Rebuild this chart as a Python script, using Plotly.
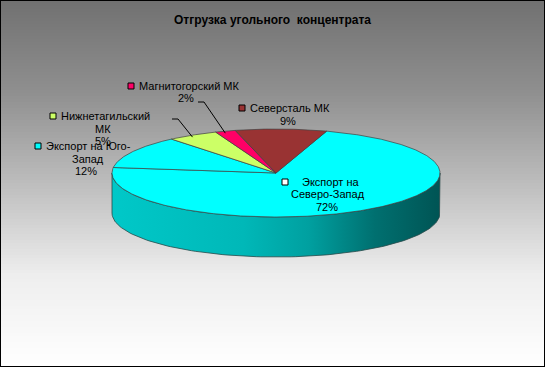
import numpy as np
import plotly.graph_objects as go

# ---------------- data ----------------
categories = ["Экспорт на Северо-Запад", "Экспорт на Юго-Запад",
              "Нижнетагильский МК", "Магнитогорский МК", "Северсталь МК"]
values = [72, 12, 5, 2, 9]
percent_labels = ["72%", "12%", "5%", "2%", "9%"]
slice_colors = ["#00FFFF", "#00FFFF", "#CCFF66", "#FF0066", "#993333"]
key_colors = ["#FFFFFF", "#00FFFF", "#CCFF66", "#FF0066", "#993333"]
title_text = "Отгрузка угольного  концентрата"

# ---------------- layout geometry (pixels) ----------------
W, H = 545, 367
CX, CY, RX, RY, DEPTH = 276, 173, 164, 44, 40
START_ANGLE = 72.0  # degrees, slices run clockwise
FONT = "Liberation Sans, Arial, sans-serif"

fig = go.Figure()

shapes = []
# background gradient (horizontal bands)
bg_stops = [(0.0, (112, 112, 112)), (0.25, (143, 143, 143)), (0.5, (189, 189, 189)),
            (0.75, (238, 238, 238)), (1.0, (255, 255, 255))]


def bg_color(f):
    for (f0, c0), (f1, c1) in zip(bg_stops[:-1], bg_stops[1:]):
        if f <= f1:
            u = (f - f0) / (f1 - f0)
            c = [round(a + (b - a) * u) for a, b in zip(c0, c1)]
            return "rgb(%d,%d,%d)" % tuple(c)
    return "rgb(255,255,255)"


band = 3
for y0 in range(0, H, band):
    shapes.append(dict(type="rect", xref="x", yref="y", x0=0, x1=W, y0=y0, y1=min(H, y0 + band + 0.5),
                       fillcolor=bg_color((y0 + band / 2) / H), line=dict(width=0), layer="below"))

total = float(sum(values))
bounds = []
a = START_ANGLE
for v in values:
    b = a - 360.0 * v / total
    bounds.append((b, a))
    a = b


def ell(t_deg, dy=0.0):
    t = np.radians(t_deg)
    return CX + RX * np.cos(t), CY - RY * np.sin(t) + dy


# side walls (front half only)
for (lo, hi), col in zip(bounds, slice_colors):
    for k in (-1, 0, 1):
        s0, s1 = max(lo, 180 + 360 * k), min(hi, 360 + 360 * k)
        if s1 - s0 <= 0:
            continue
        ts = np.linspace(s0, s1, 120)
        xt, yt = ell(ts)
        xb, yb = ell(ts[::-1], DEPTH)
        xs = np.concatenate([xt, xb, xt[:1]])
        ys = np.concatenate([yt, yb, yt[:1]])
        fig.add_trace(go.Scatter(
            x=xs, y=ys, mode="lines", fill="toself",
            line=dict(color="#2a4a4a", width=0.8), hoverinfo="skip", showlegend=False,
            fillgradient=dict(type="horizontal", start=CX - RX, stop=CX + RX,
                              colorscale=[[0, "#00c8c8"], [0.4, "#00b8b8"], [0.6, "#00a0a0"],
                                          [0.8, "#007070"], [1, "#005454"]])))

# top faces
for (lo, hi), col in zip(bounds, slice_colors):
    ts = np.linspace(hi, lo, max(4, int((hi - lo) * 2)))
    xa, ya = ell(ts)
    xs = np.concatenate([[CX], xa, [CX]])
    ys = np.concatenate([[CY], ya, [CY]])
    fig.add_trace(go.Scatter(
        x=xs, y=ys, mode="lines", fill="toself", fillcolor=col,
        line=dict(color="#404040", width=0.7), hoverinfo="skip", showlegend=False))

# ---------------- labels ----------------
label_layout = [
    dict(key=(285, 182), lines=[("Экспорт на", 300, 182, "left"),
                                ("Северо-Запад", 328, 194, "center"),
                                ("72%", 327, 207, "center")]),
    dict(key=(38, 146), lines=[("Экспорт на Юго-", 44, 146, "left"),
                               ("Запад", 88, 159, "center"),
                               ("12%", 86, 171, "center")]),
    dict(key=(53, 116), lines=[("Нижнетагильский", 59, 116, "left"),
                               ("МК", 103, 129, "center"),
                               ("5%", 103, 141, "center")]),
    dict(key=(131, 86), lines=[("Магнитогорский МК", 137, 86, "left"),
                               ("2%", 186, 98, "center")]),
    dict(key=(242, 108), lines=[("Северсталь МК", 248, 108, "left"),
                                ("9%", 288, 121, "center")]),
]
leader_starts = {2: (172, 119, 178), 3: (198, 102, 204)}

annotations = [dict(text="<b>" + title_text + "</b>", x=272, y=20, xref="x", yref="y",
                    showarrow=False, font=dict(family=FONT, size=12, color="#000000"),
                    xanchor="center", yanchor="middle")]
for i, lab in enumerate(label_layout):
    kx, ky = lab["key"]
    shapes.append(dict(type="rect", xref="x", yref="y", x0=kx - 3, x1=kx + 3,
                       y0=ky - 3, y1=ky + 3, fillcolor=key_colors[i],
                       line=dict(color="#000000", width=1)))
    for txt, tx, ty, anc in lab["lines"]:
        annotations.append(dict(text=txt, x=tx, y=ty, xref="x", yref="y", showarrow=False,
                                xanchor=anc, yanchor="middle",
                                font=dict(family=FONT, size=11, color="#000000")))

for i, (sx, sy, sx2) in leader_starts.items():
    lo, hi = bounds[i]
    ex, ey = ell((lo + hi) / 2.0)
    ey += 2
    shapes.append(dict(type="line", xref="x", yref="y", x0=sx, y0=sy, x1=sx2, y1=sy,
                       line=dict(color="#000000", width=1)))
    shapes.append(dict(type="line", xref="x", yref="y", x0=sx2, y0=sy, x1=ex, y1=ey,
                       line=dict(color="#000000", width=1)))

shapes.append(dict(type="rect", xref="paper", yref="paper", x0=0, x1=1, y0=0, y1=1,
                   line=dict(color="#000000", width=2), fillcolor="rgba(0,0,0,0)"))

fig.update_layout(
    width=W, height=H, margin=dict(l=0, r=0, t=0, b=0),
    paper_bgcolor="#ffffff", plot_bgcolor="#ffffff",
    xaxis=dict(range=[0, W], visible=False, fixedrange=True),
    yaxis=dict(range=[H, 0], visible=False, fixedrange=True),
    showlegend=False, annotations=annotations, shapes=shapes,
    font=dict(family=FONT),
)

fig.write_html("out.html", config={"displayModeBar": False},
               post_script="document.body.style.margin='0';document.body.style.overflow='hidden';")
